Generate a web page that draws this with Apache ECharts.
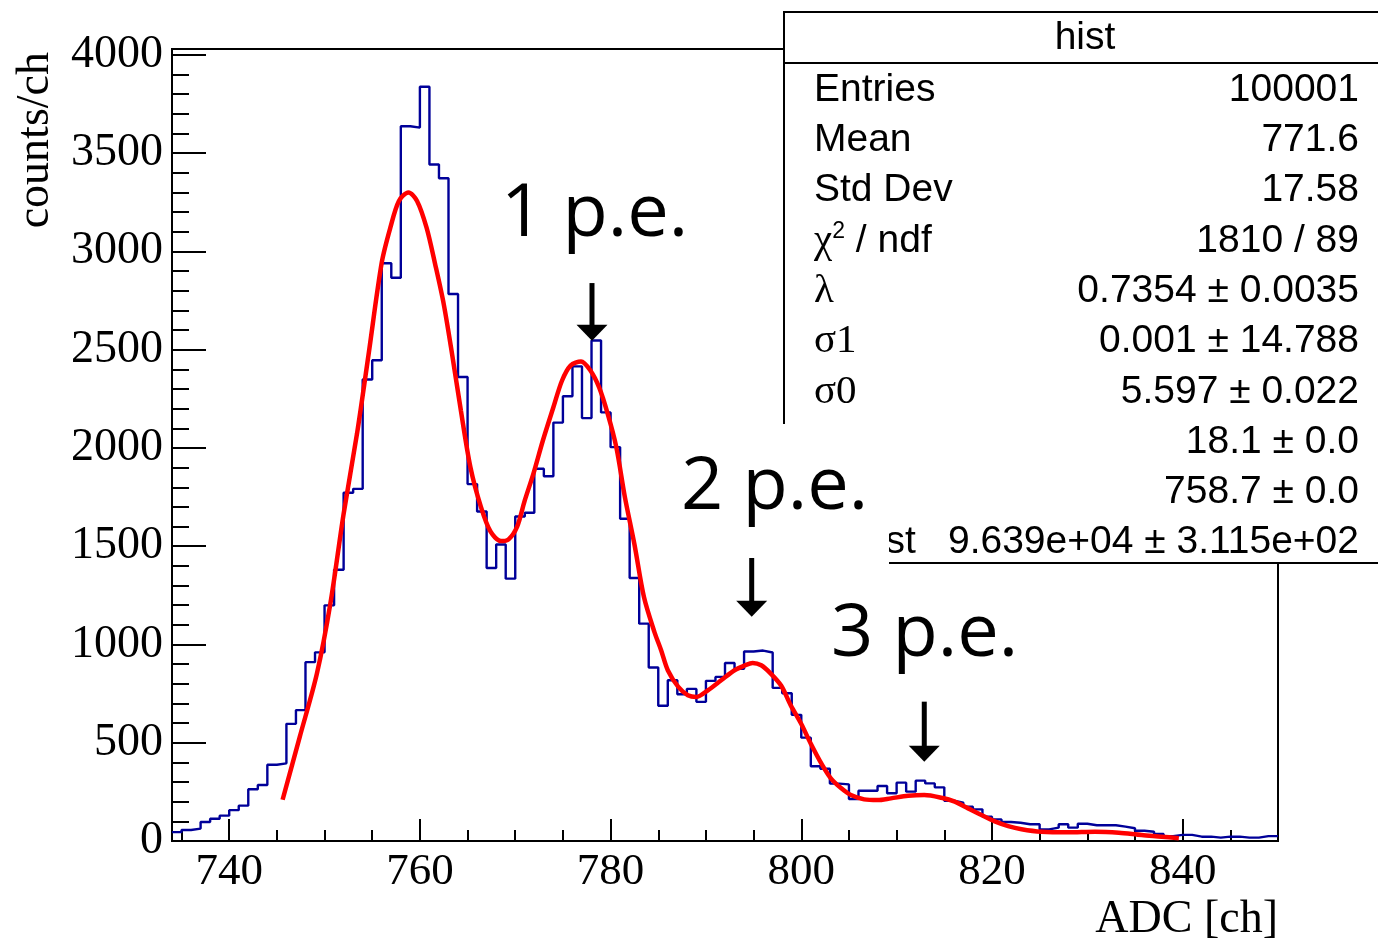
<!DOCTYPE html>
<html>
<head>
<meta charset="utf-8">
<title>hist</title>
<script src="https://cdn.jsdelivr.net/npm/echarts@6.0.0/dist/echarts.min.js"></script>
<style>
	html, body { margin: 0; padding: 0; background: #fff; }
	#hist { width: 1378px; height: 941px; }
</style>
</head>
<body>
<div id="hist"></div>
<script>
	// histogram: one bin per ADC channel, first bin starts at 734
	const firstBin = 734
	const counts = [
		45, 56, 63, 97, 113, 129, 157, 180, 263, 285,
		388, 395, 596, 666, 910, 960, 1199, 1380, 1772, 1792,
		2348, 2446, 2940, 2866, 3637, 3630, 3838, 3442, 3372, 2783,
		2361, 1816, 1677, 1389, 1509, 1335, 1651, 1670, 1894, 1856,
		2129, 2263, 2415, 2152, 2547, 2181, 2004, 1640, 1338, 1106,
		883, 688, 818, 747, 774, 708, 815, 835, 906, 876,
		964, 969, 959, 779, 752, 642, 526, 380, 368, 292,
		288, 214, 256, 256, 280, 243, 297, 251, 307, 293,
		273, 205, 195, 174, 161, 124, 110, 97, 93, 85,
		85, 59, 68, 85, 68, 88, 80, 80, 80, 73,
		65, 52, 47, 36, 25, 31, 31, 22, 22, 17,
		22, 22, 17, 17, 25, 25
	]

	// fit curve
	const fitX = [745.6, 747.4, 749.2, 750.6, 752.0, 753.4, 754.6, 756.0, 756.9, 757.8, 758.8, 759.7, 760.7, 761.6, 762.5, 763.4, 764.3, 765.3, 766.4, 767.4, 768.5, 769.3, 770.2, 771.0, 771.9, 772.9, 774.0, 774.9, 775.8, 776.9, 777.9, 778.8, 779.7, 780.6, 781.5, 782.5, 783.5, 784.6, 785.3, 786.0, 787.1, 788.1, 789.0, 790.2, 791.6, 793.0, 794.1, 794.9, 795.8, 796.8, 797.9, 798.9, 800.0, 801.0, 802.1, 803.1, 804.2, 805.2, 806.6, 808.0, 809.4, 811.2, 812.9, 814.7, 816.1, 817.5, 818.9, 820.3, 821.7, 823.1, 825.2, 828.0, 830.8, 833.3, 835.7, 837.8, 839.6]
	const fitY = [210, 530, 852, 1205, 1665, 2071, 2470, 2944, 3121, 3257, 3300, 3257, 3121, 2935, 2732, 2470, 2190, 1902, 1700, 1575, 1526, 1535, 1600, 1733, 1868, 2038, 2207, 2342, 2419, 2440, 2393, 2308, 2173, 2004, 1750, 1510, 1241, 1063, 971, 869, 784, 742, 733, 767, 818, 869, 894, 906, 894, 852, 790, 690, 595, 495, 395, 319, 268, 234, 212, 208, 217, 230, 234, 220, 200, 166, 132, 100, 76, 60, 47, 44, 47, 42, 30, 22, 14]

	// axis ticks
	const xMajorTicks = [740, 760, 780, 800, 820, 840]
	const xMinorTicks = [735, 740, 745, 750, 755, 760, 765, 770, 775, 780, 785, 790, 795, 800, 805, 810, 815, 820, 825, 830, 835, 840, 845, 850]
	const yMajorTicks = [0, 500, 1000, 1500, 2000, 2500, 3000, 3500, 4000]
	const yMinorTicks = [100, 200, 300, 400, 600, 700, 800, 900, 1100, 1200, 1300, 1400, 1600, 1700, 1800, 1900, 2100, 2200, 2300, 2400, 2600, 2700, 2800, 2900, 3100, 3200, 3300, 3400, 3600, 3700, 3800, 3900]

	// stats box
	const statLabels = ['Entries', 'Mean', 'Std Dev', '{g|χ}{s|2} / ndf', '{g|λ}', '{g|σ1}', '{g|σ0}', '', '', 'Const']
	const statValues = ['100001', '771.6', '17.58', '1810 / 89', '0.7354 ± 0.0035', '0.001 ± 14.788', '5.597 ± 0.022', '18.1 ± 0.0', '758.7 ± 0.0', '9.639e+04 ± 3.115e+02']

	// peak annotations: label, arrow position [x, yTop, yTip]
	const peakLabels = ['1 p.e.', '2 p.e.', '3 p.e.']
	const peakArrows = [[778.05, 2839, 2546], [794.8, 1440, 1141], [812.9, 709, 403]]

	const serif = '"Liberation Serif", "Times New Roman", serif'
	const sans = '"Liberation Sans", Arial, sans-serif'

	const histData = counts.map((v, i) => [firstBin + i, v])
	histData.push([firstBin + counts.length, counts[counts.length - 1]])
	const fitData = fitX.map((x, i) => [x, fitY[i]])

	const xBase = { type: 'value', min: 734, max: 850, position: 'bottom', axisLine: { show: false }, splitLine: { show: false } }
	const yBase = { type: 'value', min: 0, max: 4030, position: 'left', axisLine: { show: false }, splitLine: { show: false } }

	const option = {
		animation: false,
		grid: {
			left: 172,
			right: 100,
			top: 49,
			bottom: 100,
			show: true,
			borderColor: '#000',
			borderWidth: 2,
			backgroundColor: 'transparent'
		},
		xAxis: [
			Object.assign({}, xBase, {
				axisTick: { show: true, inside: true, length: 22, customValues: xMajorTicks, lineStyle: { color: '#000', width: 2 } },
				axisLabel: { show: true, customValues: xMajorTicks, margin: 9, color: '#000', fontFamily: serif, fontSize: 45, formatter: (v) => String(v) }
			}),
			Object.assign({}, xBase, {
				axisTick: { show: true, inside: true, length: 11, customValues: xMinorTicks, lineStyle: { color: '#000', width: 2 } },
				axisLabel: { show: false }
			})
		],
		yAxis: [
			Object.assign({}, yBase, {
				axisTick: { show: true, inside: true, length: 34, customValues: yMajorTicks, lineStyle: { color: '#000', width: 2 } },
				axisLabel: { show: true, customValues: yMajorTicks, margin: 9, color: '#000', fontFamily: serif, fontSize: 46, formatter: (v) => String(v) }
			}),
			Object.assign({}, yBase, {
				axisTick: { show: true, inside: true, length: 17, customValues: yMinorTicks, lineStyle: { color: '#000', width: 2 } },
				axisLabel: { show: false }
			})
		],
		series: [
			{
				name: 'hist',
				type: 'line',
				step: 'end',
				data: histData,
				symbol: 'none',
				lineStyle: { color: '#000099', width: 2.4 },
				z: 3
			},
			{
				name: 'fit',
				type: 'line',
				data: fitData,
				smooth: 0.3,
				symbol: 'none',
				lineStyle: { color: '#ff0000', width: 4.5 },
				z: 4
			}
		]
	}

	const chart = echarts.init(document.getElementById('hist'))
	chart.setOption(option)

	// graphics: titles, stats box, annotations
	const g = []
	g.push({ type: 'text', x: 36, y: 52, rotation: Math.PI / 2, z: 20,
		style: { text: 'counts/ch', font: '46px ' + serif, fill: '#000', align: 'right', verticalAlign: 'middle' } })
	g.push({ type: 'text', x: 1278, y: 920, z: 20,
		style: { text: 'ADC [ch]', font: '46px ' + serif, fill: '#000', align: 'right', verticalAlign: 'middle' } })

	// stats box
	g.push({ type: 'rect', z: 30, shape: { x: 784, y: 12, width: 700, height: 551 },
		style: { fill: '#fff', stroke: '#000', lineWidth: 2 } })
	g.push({ type: 'line', z: 31, shape: { x1: 784, y1: 63, x2: 1378, y2: 63 },
		style: { stroke: '#000', lineWidth: 2 } })
	g.push({ type: 'text', x: 1085, y: 38, z: 32,
		style: { text: 'hist', font: '39px ' + sans, fill: '#000', align: 'center', verticalAlign: 'middle' } })
	statLabels.forEach((lab, i) => {
		const y = 90 + 50.3 * i
		if (lab) {
			g.push({ type: 'text', x: 814, y: y, z: 32,
				style: {
					text: lab, font: '39px ' + sans, fill: '#000', align: 'left', verticalAlign: 'middle',
					rich: {
						g: { fontFamily: serif, fontSize: 41, fill: '#000' },
						s: { fontFamily: sans, fontSize: 23, fill: '#000', verticalAlign: 'top', padding: [0, 0, 14, 0] }
					}
				} })
		}
		g.push({ type: 'text', x: 1359, y: y, z: 32,
			style: { text: statValues[i], font: '39px ' + sans, fill: '#000', align: 'right', verticalAlign: 'middle' } })
	})
	// white box behind the 2 p.e. label, covering the stats corner
	g.push({ type: 'rect', z: 40, shape: { x: 770, y: 424, width: 119, height: 143 },
		style: { fill: '#fff' } })

	// peak labels and arrows
	const labelPos = [[501, 215], [681, 488], [831, 635]]
	peakLabels.forEach((t, i) => {
		g.push({ type: 'text', x: labelPos[i][0], y: labelPos[i][1], z: 50,
			style: { text: t, font: '74px "Open Sans", Lato, sans-serif', fill: '#000', align: 'left', verticalAlign: 'middle' } })
		const a = peakArrows[i]
		const top = chart.convertToPixel({ seriesIndex: 0 }, [a[0], a[1]])
		const tip = chart.convertToPixel({ seriesIndex: 0 }, [a[0], a[2]])
		g.push({ type: 'line', z: 50, shape: { x1: top[0], y1: top[1], x2: tip[0], y2: tip[1] - 10 },
			style: { stroke: '#000', lineWidth: 5 } })
		g.push({ type: 'polygon', z: 51, shape: { points: [[tip[0] - 15.5, tip[1] - 16], [tip[0] + 15.5, tip[1] - 16], [tip[0], tip[1]]] },
			style: { fill: '#000' } })
	})

	chart.setOption({ graphic: g })
</script>
</body>
</html>
